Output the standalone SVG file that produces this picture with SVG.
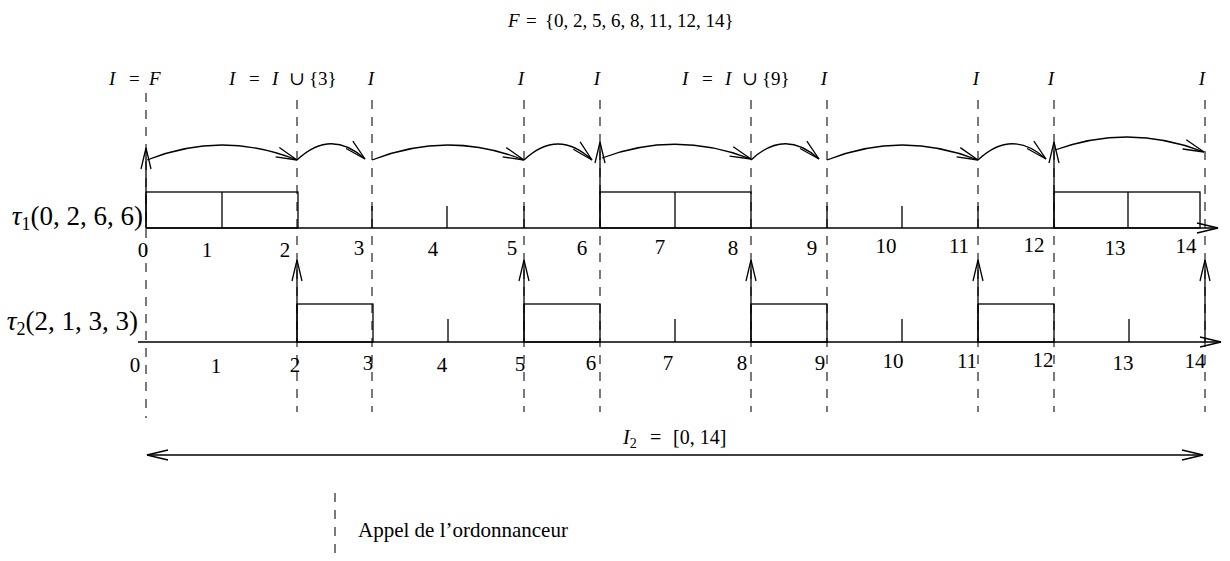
<svg xmlns="http://www.w3.org/2000/svg" width="1230" height="561" viewBox="0 0 1230 561">
<style>
text{font-family:"Liberation Serif","DejaVu Serif",serif;fill:#000}
.it{font-style:italic}
.num{font-size:21px;text-anchor:middle}
.lbl{font-size:19px}
.ln{stroke:#000;stroke-width:1.3;fill:none}
.dash{stroke:#333;stroke-width:1.3;stroke-dasharray:9 8;fill:none}
.arr{stroke:#000;stroke-width:1.3;fill:none;marker-end:url(#ah)}
</style>
<defs>
<marker id="ah" markerUnits="userSpaceOnUse" viewBox="0 0 22 12" refX="21" refY="6" markerWidth="22" markerHeight="12" orient="auto-start-reverse" overflow="visible">
<path d="M0,1 L21,6 L0,11" fill="none" stroke="#000" stroke-width="1.3"/>
</marker>
</defs>

<text x="508" y="27" font-size="19"><tspan class="it">F</tspan><tspan x="526">=</tspan><tspan x="545">{0, 2, 5, 6, 8, 11, 12, 14}</tspan></text>

<g id="scheduler-calls">
<line class="dash" x1="146" y1="93" x2="146" y2="418"/>
<line class="dash" x1="297" y1="100" x2="297" y2="412"/>
<line class="dash" x1="372" y1="100" x2="372" y2="412"/>
<line class="dash" x1="524" y1="100" x2="524" y2="412"/>
<line class="dash" x1="600" y1="100" x2="600" y2="412"/>
<line class="dash" x1="751" y1="100" x2="751" y2="412"/>
<line class="dash" x1="827" y1="100" x2="827" y2="412"/>
<line class="dash" x1="978" y1="100" x2="978" y2="412"/>
<line class="dash" x1="1054" y1="100" x2="1054" y2="412"/>
<line class="dash" x1="1205" y1="100" x2="1205" y2="412"/>
</g>

<g id="call-labels" class="lbl">
<text y="85"><tspan x="109" class="it">I</tspan><tspan x="129">=</tspan><tspan x="149" class="it">F</tspan></text>
<text y="85"><tspan x="229" class="it">I</tspan><tspan x="249">=</tspan><tspan x="272" class="it">I</tspan><tspan x="289">∪</tspan><tspan x="309">{3}</tspan></text>
<text x="371" y="85" text-anchor="middle" class="it">I</text>
<text x="521" y="85" text-anchor="middle" class="it">I</text>
<text x="597" y="85" text-anchor="middle" class="it">I</text>
<text y="85"><tspan x="682" class="it">I</tspan><tspan x="702">=</tspan><tspan x="725" class="it">I</tspan><tspan x="742">∪</tspan><tspan x="762">{9}</tspan></text>
<text x="824" y="85" text-anchor="middle" class="it">I</text>
<text x="976" y="85" text-anchor="middle" class="it">I</text>
<text x="1051" y="85" text-anchor="middle" class="it">I</text>
<text x="1202" y="85" text-anchor="middle" class="it">I</text>
</g>

<g id="tau1">
<text x="143" y="225" font-size="27" text-anchor="end"><tspan class="it">τ</tspan><tspan font-size="18" dy="5">1</tspan><tspan dy="-5">(0, 2, 6, 6)</tspan></text>
<rect class="ln" x="146" y="192" width="152" height="36"/>
<line class="ln" x1="222" y1="192" x2="222" y2="228"/>
<rect class="ln" x="600" y="192" width="151" height="36"/>
<line class="ln" x1="675" y1="192" x2="675" y2="228"/>
<rect class="ln" x="1054" y="192" width="146" height="36"/>
<line class="ln" x1="1128" y1="192" x2="1128" y2="228"/>
<path class="ln" d="M372,206V228M447,206V228M524,206V228M827,206V228M902,206V228M978,206V228"/>
<g class="num">
<text x="143" y="257">0</text><text x="207" y="257">1</text><text x="285" y="257">2</text><text x="359" y="255">3</text>
<text x="433" y="256">4</text><text x="512" y="255">5</text><text x="582" y="255">6</text><text x="660" y="254">7</text>
<text x="733" y="255">8</text><text x="812" y="255">9</text><text x="886" y="253">10</text><text x="959" y="253">11</text>
<text x="1034" y="252">12</text><text x="1115" y="255">13</text><text x="1186" y="253">14</text>
</g>
</g>

<g id="tau2">
<text x="138" y="330" font-size="27" text-anchor="end"><tspan class="it">τ</tspan><tspan font-size="18" dy="5">2</tspan><tspan dy="-5">(2, 1, 3, 3)</tspan></text>
<rect class="ln" x="297" y="304" width="76" height="38"/>
<rect class="ln" x="524" y="304" width="76" height="38"/>
<rect class="ln" x="751" y="304" width="76" height="38"/>
<rect class="ln" x="978" y="304" width="76" height="38"/>
<path class="ln" d="M448,319V342M675,319V342M902,319V342M1129,319V342"/>
<g class="num">
<text x="135" y="372">0</text><text x="216" y="373">1</text><text x="295" y="372">2</text><text x="368" y="370">3</text>
<text x="442" y="372">4</text><text x="520" y="371">5</text><text x="591" y="370">6</text><text x="668" y="370">7</text>
<text x="742" y="370">8</text><text x="820" y="370">9</text><text x="893" y="368">10</text><text x="967" y="368">11</text>
<text x="1043" y="367">12</text><text x="1123" y="370">13</text><text x="1195" y="368">14</text>
</g>
</g>

<g id="connectors">
<path class="arr" d="M146,228H1218"/>
<path class="arr" d="M138,342H1221"/>
<path class="arr" d="M146,228V148"/>
<path class="arr" d="M600,228V142"/>
<path class="arr" d="M1054,228V142"/>
<path class="arr" d="M297,342V260"/>
<path class="arr" d="M524,342V260"/>
<path class="arr" d="M751,342V260"/>
<path class="arr" d="M978,342V260"/>
<path class="arr" d="M1205,342V260"/>
<path class="arr" d="M147,160Q222,130 297,160"/>
<path class="arr" d="M297,160Q331,128 365,159"/>
<path class="arr" d="M372,160Q448,130 524,160"/>
<path class="arr" d="M524,160Q558,128 592,160"/>
<path class="arr" d="M602,158Q676,130 751,159"/>
<path class="arr" d="M751,160Q785,128 819,159"/>
<path class="arr" d="M827,160Q902,130 978,160"/>
<path class="arr" d="M978,160Q1012,128 1046,159"/>
<path class="arr" d="M1055,150Q1130,123 1204,152"/>
<path class="arr" d="M147,455H1203" marker-start="url(#ah)"/>
</g>

<g id="interval">
<text y="444" font-size="20"><tspan x="623" class="it">I</tspan><tspan font-size="14" dy="4">2</tspan><tspan x="650" dy="-4">=</tspan><tspan x="673">[0, 14]</tspan></text>
</g>

<g id="legend">
<line class="dash" x1="335" y1="493" x2="335" y2="561"/>
<text x="358" y="537" font-size="21">Appel de l’ordonnanceur</text>
</g>
</svg>
